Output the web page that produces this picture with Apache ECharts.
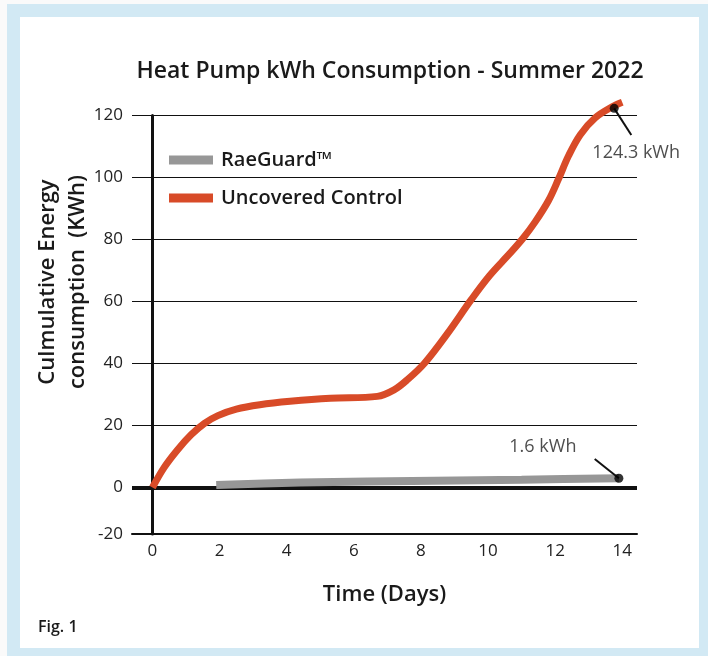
<!DOCTYPE html>
<html>
<head>
<meta charset="utf-8">
<title>Heat Pump kWh Consumption</title>
<script src="https://cdn.jsdelivr.net/npm/echarts@6/dist/echarts.min.js"></script>
<style>
    body { margin: 0; background: #fafafa; }
    #frame { position: absolute; left: 7px; top: 4px; width: 701px; height: 652px; background: #d2e9f4; }
    #panel { position: absolute; left: 20px; top: 17px; width: 679px; height: 631px; background: #fff; }
    #chart { position: absolute; left: 0; top: 0; width: 708px; height: 656px; }
</style>
</head>
<body>
<div id="frame"></div>
<div id="panel"></div>
<div id="chart"></div>
<script>
// data: [day, cumulative kWh]
var controlData = [
    [0, 0], [0.35, 6.5], [0.75, 12.2], [1.15, 17], [1.55, 20.7], [1.95, 23.2],
    [2.5, 25.3], [3.2, 26.7], [4.1, 27.8], [5.3, 28.8], [6.7, 29.4], [7.2, 31.5],
    [7.6, 34.8], [8.1, 40], [8.8, 49.8], [9.5, 60.6], [10.05, 68.4], [10.65, 75.5],
    [11.05, 80.5], [11.4, 85.6], [11.8, 92.5], [12.1, 99.5], [12.4, 107],
    [12.75, 113.8], [13.2, 119.3], [13.7, 122.8], [14, 124.3]
];
var raeGuardData = [[1.9, 0.8], [4.4, 1.6], [8.4, 2.2], [11, 2.5], [13.9, 3.0]];

var xTicks = [0, 2, 4, 6, 8, 10, 12, 14];
var yTicks = [-15, 0, 20, 40, 60, 80, 100, 120];   // bottom of axis is labelled -20 in the original
var gridValues = [20, 40, 60, 80, 100, 120];

// end annotations: dot, leader line and text
var controlDot = [13.76, 122.3];
var controlLeader = [[13.76, 122.3], [14.27, 113.7]];
var raeDot = [13.9, 3.0];
var raeLeader = [[13.18, 9.2], [13.9, 3.0]];

var font = '"Open Sans", "Liberation Sans", sans-serif';
var red = '#d84b28';
var gray = '#979797';

function leader(points) {
    return {
        type: 'line',
        data: points,
        clip: false,
        silent: true,
        showSymbol: false,
        lineStyle: {color: '#111', width: 2},
        z: 4
    };
}

var chart = echarts.init(document.getElementById('chart'));
chart.setOption({
    animation: false,
    backgroundColor: 'transparent',
    title: {
        text: 'Heat Pump kWh Consumption - Summer 2022',
        left: 385,
        top: 55,
        textAlign: 'center',
        textStyle: {fontFamily: font, fontSize: 23, fontWeight: 600, color: '#1a1a1a'}
    },
    legend: {
        orient: 'vertical',
        left: 164,
        top: 145,
        itemWidth: 44,
        itemHeight: 9,
        itemGap: 18,
        icon: 'rect',
        data: ['RaeGuard™', 'Uncovered Control'],
        textStyle: {fontFamily: font, fontSize: 20, fontWeight: 600, color: '#1a1a1a', lineHeight: 20, padding: [0, 0, 0, 3]}
    },
    grid: {left: 132, right: 71, top: 115.5, bottom: 122},
    xAxis: {
        type: 'value',
        min: -0.61,
        max: 14.44,
        name: 'Time (Days)',
        nameLocation: 'middle',
        nameGap: 50,
        nameTextStyle: {fontFamily: font, fontSize: 22, fontWeight: 600, color: '#1a1a1a'},
        axisLine: {onZero: false, lineStyle: {color: '#111', width: 2}},
        axisTick: {show: false, customValues: xTicks},
        splitLine: {show: false},
        axisLabel: {customValues: xTicks, margin: 9, fontFamily: font, fontSize: 17, color: '#222'}
    },
    yAxis: {
        type: 'value',
        min: -15,
        max: 120,
        axisLine: {show: true, lineStyle: {color: '#111', width: 3}},
        axisTick: {show: false, customValues: yTicks},
        splitLine: {show: false},
        axisLabel: {
            customValues: yTicks,
            margin: 9,
            fontFamily: font, fontSize: 17, color: '#222',
            formatter: function (v) { return v === -15 ? '-20' : String(v); }
        }
    },
    graphic: [
        {
            type: 'text',
            x: 63, y: 282,
            rotation: Math.PI / 2,
            style: {
                text: 'Culmulative Energy\nconsumption  (KWh)',
                font: '600 22px ' + font,
                fill: '#1a1a1a',
                align: 'center',
                verticalAlign: 'middle',
                lineHeight: 30
            }
        },
        {
            type: 'text',
            x: 38, y: 627,
            style: {text: 'Fig. 1', font: '600 16px ' + font, fill: '#1a1a1a', verticalAlign: 'middle'}
        }
    ],
    series: [
        {
            name: 'Uncovered Control',
            type: 'line',
            data: controlData,
            smooth: 0.35,
            clip: false,
            showSymbol: false,
            itemStyle: {color: red},
            lineStyle: {color: red, width: 7, cap: 'butt'},
            z: 3,
            markLine: {
                silent: true,
                symbol: 'none',
                label: {show: false},
                data: gridValues.map(function (v) {
                    return {yAxis: v, lineStyle: {color: '#111', width: 1, type: 'solid'}};
                }).concat([
                    {yAxis: 0, lineStyle: {color: '#111', width: 4, type: 'solid'}}
                ]),
                z: 1
            }
        },
        {
            name: 'RaeGuard™',
            type: 'line',
            data: raeGuardData,
            smooth: 0.3,
            showSymbol: false,
            itemStyle: {color: gray},
            lineStyle: {color: gray, width: 8, cap: 'butt'},
            z: 3
        },
        leader(controlLeader),
        leader(raeLeader),
        {
            type: 'scatter',
            clip: false,
            data: [
                {value: controlDot, label: {formatter: '124.3 kWh', offset: [22, 45]}},
                {value: raeDot, label: {formatter: '1.6 kWh', offset: [-76, -31]}}
            ],
            symbolSize: 9,
            itemStyle: {color: '#000'},
            label: {show: true, position: 'inside', fontFamily: font, fontSize: 18, color: '#222'},
            z: 5
        }
    ]
});
</script>
</body>
</html>
